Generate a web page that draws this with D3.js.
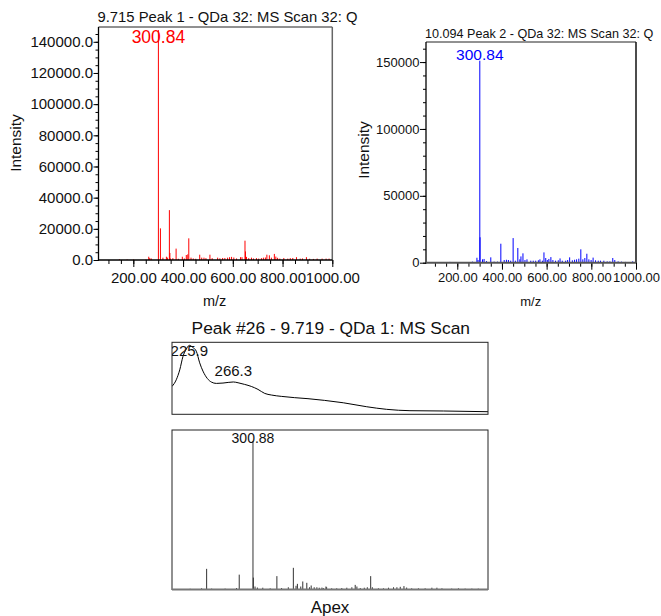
<!DOCTYPE html>
<html>
<head>
<meta charset="utf-8">
<script src="https://cdn.jsdelivr.net/npm/d3@7"></script>
<style>
  html, body { margin: 0; padding: 0; background: #fff; }
  svg { display: block; font-family: "Liberation Sans", Arial, sans-serif; }
</style>
</head>
<body>
<svg id="chart" width="661" height="616"></svg>
<script>
// ---- Data ---------------------------------------------------------------

// 9.715 min, Peak 1: [m/z, intensity]
const scan1Peaks = [
  [144,400],[175,300],[201,300],[251,300],[262,2100],[266,1200],[272,1000],
  [300.84,147500],[309,20300],[319,1500],[333,2100],[337,1500],[345,32000],
  [347,4500],[349,1000],[359,1200],[372,7300],[381,800],[397,2100],[405,1000],
  [413,3200],[419,3600],[423,13900],[432,1500],[441,1000],[451,800],[467,3400],
  [475,1500],[484,1500],[492,1200],[508,3400],[517,1200],[539,1500],[548,1100],
  [559,1300],[568,1300],[579,1500],[587,1800],[595,2000],[604,1600],[615,1000],
  [631,1800],[637,1800],[649,12400],[651,5500],[655,2000],[664,1200],[675,1500],
  [683,1000],[695,1200],[704,900],[715,1200],[723,1500],[731,1600],[737,3400],
  [747,3000],[755,1500],[767,3900],[773,2200],[780,1400],[789,900],[805,1300],
  [821,900],[831,1200],[841,1300],[856,1800],[871,900],[880,1000],[896,1800],
  [909,800],[924,700],[939,900],[959,900],[975,900],[987,900]
];

// 10.094 min, Peak 2: [m/z, intensity]
const scan2Peaks = [
  [105,300],[134,300],[167,600],[194,400],[221,400],[253,300],[268,800],
  [288,3700],[293,2000],[300.84,151000],[302,19000],[313,2500],[320,2800],
  [331,1200],[350,4000],[365,800],[380,800],[395,14200],[410,2000],[420,2200],
  [429,2000],[439,1500],[450,18400],[460,1500],[471,11000],[480,2500],[485,4700],
  [494,7000],[503,2000],[512,2500],[529,1500],[540,1500],[551,1500],[563,1800],
  [570,2500],[581,1500],[588,7700],[596,3500],[603,2000],[610,2800],[619,4200],
  [628,2000],[640,1500],[652,1800],[660,3200],[670,1500],[685,1500],[694,2000],
  [703,4000],[715,1800],[725,2200],[734,2500],[744,3000],[753,10000],[762,2500],
  [771,3500],[780,6700],[789,2500],[799,2000],[808,3800],[819,1800],[831,1500],
  [841,1500],[856,1500],[871,1000],[883,1000],[896,3500],[905,2000],[920,1000],
  [935,800],[953,600],[968,500],[985,1000]
];

// Peak #26 apex mass spectrum: [m/z, relative intensity %]
const apexPeaks = [
  [114,0.5],[148,0.8],[163,13.9],[178,0.6],[218,0.6],[252,1],[260,10],
  [300.88,100],[302,8],[307,2],[314,1.3],[330,1.2],[352,0.8],[372,9],[386,1],
  [406,1.5],[421,14.6],[429,2.5],[433,3.8],[443,2],[449,5.4],[461,4.5],[469,1.5],
  [474,2.7],[483,1.5],[491,1.5],[498,1.2],[506,1.3],[510,1],[518,2],[520,1.5],
  [535,0.8],[550,0.8],[565,1],[580,1.2],[595,1.5],[605,3.1],[610,2],[620,1],
  [632,1.2],[641,1.5],[651,9],[656,1.5],[674,0.8],[689,0.8],[704,1.2],[719,1.5],
  [729,1.5],[739,1.8],[750,2.3],[758,1.3],[773,0.8],[793,0.8],[813,0.8],
  [833,1.2],[848,1.2],[863,0.8],[892,0.6],[912,0.8],[932,0.6],[952,0.6],[971,0.6]
];

// Peak #26 UV spectrum: [wavelength nm, absorbance]
const uvSpectrum = [
  [210,0.387],[213.9,0.479],[217.1,0.617],[220.1,0.805],[223.1,0.905],
  [225.9,0.958],[229,0.93],[232.3,0.876],[235.4,0.715],[238.4,0.600],
  [242.4,0.498],[246.1,0.448],[250.7,0.429],[256.8,0.434],[266.3,0.449],
  [270.6,0.438],[276.7,0.415],[282.8,0.387],[288.9,0.346],[295.1,0.290],
  [301.1,0.268],[310.3,0.249],[322.6,0.231],[334.8,0.217],[350.1,0.193],
  [367.2,0.160],[388.7,0.105],[407.0,0.069],[428.4,0.050],[459.0,0.046],
  [500,0.036]
];

// Labelled maxima
const scan1Labels = [[300.84, 147500, "300.84"]];
const scan2Labels = [[300.84, 151000, "300.84"]];
const apexLabels  = [[300.88, 100, "300.88"]];
const uvLabels    = [[225.9, 0.958, "225.9"], [266.3, 0.449, "266.3"]];

// Axis ticks
const mzTicks = [200, 400, 600, 800, 1000];
const mzMinorTicks = d3.range(100, 1001, 50);
const scan1YTicks = [0, 20000, 40000, 60000, 80000, 100000, 120000, 140000];
const scan1YMinor = d3.range(0, 145001, 5000);
const scan2YTicks = [0, 50000, 100000, 150000];
const scan2YMinor = d3.range(0, 160001, 10000);

// Titles
const scan1Title = "9.715 Peak 1 - QDa 32: MS Scan 32: Q";
const scan2Title = "10.094 Peak 2 - QDa 32: MS Scan 32: Q";
const peakTitle = "Peak #26 - 9.719 - QDa 1: MS Scan";

// ---- Drawing ------------------------------------------------------------

const svg = d3.select("#chart");
const mzDomain = [60, 1000];

function sticks(g, data, x, y, color, width) {
  g.selectAll(null).data(data).join("line")
    .attr("x1", d => x(d[0])).attr("x2", d => x(d[0]))
    .attr("y1", y(0)).attr("y2", d => y(d[1]))
    .attr("stroke", color).attr("stroke-width", width);
}

function styleAxis(g, fontSize) {
  g.select(".domain").remove();
  g.selectAll("text").attr("font-size", fontSize).attr("fill", "#111")
    .attr("font-family", "Liberation Sans, Arial, sans-serif");
  g.selectAll("line").attr("stroke", "#000");
}

// Mass spectrum panel with axes
function massPanel(opt) {
  const x = d3.scaleLinear().domain(mzDomain).range([opt.left, opt.right]);
  const y = d3.scaleLinear().domain([0, opt.yMax]).range([opt.bottom, opt.top]);
  const g = svg.append("g");

  g.append("text")
    .attr("x", opt.left - 1).attr("y", opt.titleY)
    .attr("font-size", opt.titleSize).attr("fill", "#111")
    .text(opt.title);

  // frame: top and right
  g.append("line").attr("x1", opt.left).attr("x2", opt.right)
    .attr("y1", opt.top).attr("y2", opt.top).attr("stroke", "#222");
  g.append("line").attr("x1", opt.right).attr("x2", opt.right)
    .attr("y1", opt.top).attr("y2", opt.bottom)
    .attr("stroke", opt.rightColor).attr("stroke-width", 1.5);

  sticks(g, opt.peaks, x, y, opt.color, 1);

  // y axis
  const ya = g.append("g").attr("transform", `translate(${opt.left},0)`)
    .call(d3.axisLeft(y).tickValues(opt.yMinor).tickSize(3).tickFormat(""));
  styleAxis(ya, opt.tickSize);
  const yb = g.append("g").attr("transform", `translate(${opt.left},0)`)
    .call(d3.axisLeft(y).tickValues(opt.yTicks).tickSize(opt.yTickLen)
      .tickPadding(0.5).tickFormat(opt.yFormat));
  styleAxis(yb, opt.tickSize);
  g.append("line").attr("x1", opt.left).attr("x2", opt.left)
    .attr("y1", opt.top).attr("y2", opt.bottom + 1).attr("stroke", "#000").attr("stroke-width", 1.3);

  // x axis
  const xa = g.append("g").attr("transform", `translate(0,${opt.bottom})`)
    .call(d3.axisBottom(x).tickValues(mzMinorTicks).tickSize(4).tickFormat(""));
  styleAxis(xa, opt.tickSize);
  const xb = g.append("g").attr("transform", `translate(0,${opt.bottom})`)
    .call(d3.axisBottom(x).tickValues(mzTicks).tickSize(7)
      .tickPadding(opt.xPad).tickFormat(d3.format(".2f")));
  styleAxis(xb, opt.tickSize);
  g.append("line").attr("x1", opt.left).attr("x2", opt.right)
    .attr("y1", opt.bottom).attr("y2", opt.bottom)
    .attr("stroke", opt.baseColor).attr("stroke-width", opt.baseWidth);

  // peak labels
  g.selectAll(null).data(opt.labels).join("text")
    .attr("x", d => x(d[0]))
    .attr("y", d => Math.max(y(d[1]) - 1, opt.top + opt.labelMin))
    .attr("text-anchor", "middle").attr("font-size", opt.labelSize)
    .attr("fill", opt.color).text(d => d[2]);

  // axis titles
  g.append("text")
    .attr("transform", `translate(${opt.yTitleX},${opt.yTitleY}) rotate(-90)`)
    .attr("text-anchor", "middle").attr("font-size", 15.5).attr("fill", "#111")
    .text("Intensity");
  g.append("text").attr("x", opt.mzX).attr("y", opt.mzY)
    .attr("text-anchor", "middle").attr("font-size", opt.mzSize).attr("fill", "#111")
    .text("m/z");
}

massPanel({
  left: 98.5, right: 332.3, top: 27, bottom: 260, yMax: 149500,
  peaks: scan1Peaks, labels: scan1Labels, color: "#ff0000",
  title: scan1Title, titleY: 21.7, titleSize: 14.8,
  yTicks: scan1YTicks, yMinor: scan1YMinor, yFormat: d3.format(".1f"), yTickLen: 5,
  tickSize: 15, xPad: 5, labelSize: 17.5, labelMin: 16.3,
  rightColor: "#666", baseColor: "#000", baseWidth: 1.5,
  yTitleX: 21, yTitleY: 143, mzX: 214.7, mzY: 306, mzSize: 14.5
});

massPanel({
  left: 426, right: 636, top: 42, bottom: 262.7, yMax: 165000,
  peaks: scan2Peaks, labels: scan2Labels, color: "#0000ff",
  title: scan2Title, titleY: 38.3, titleSize: 12.6,
  yTicks: scan2YTicks, yMinor: scan2YMinor, yFormat: d3.format("d"), yTickLen: 6,
  tickSize: 13, xPad: 3.5, labelSize: 15.5, labelMin: 14,
  rightColor: "#111", baseColor: "#555", baseWidth: 2,
  yTitleX: 369, yTitleY: 150, mzX: 530.7, mzY: 306, mzSize: 13
});

// ---- Peak #26: UV and apex mass spectrum --------------------------------

svg.append("text").attr("x", 330.8).attr("y", 333.5)
  .attr("text-anchor", "middle").attr("font-size", 17.4).attr("fill", "#111")
  .text(peakTitle);

const uvBox = { left: 172, right: 488, top: 342.3, bottom: 414.3 };
const xw = d3.scaleLinear().domain([210, 500]).range([uvBox.left, uvBox.right]);
const ya = d3.scaleLinear().domain([0, 1]).range([uvBox.bottom, uvBox.top]);

svg.append("clipPath").attr("id", "clip-uv").append("rect")
  .attr("x", uvBox.left).attr("y", uvBox.top)
  .attr("width", uvBox.right - uvBox.left).attr("height", uvBox.bottom - uvBox.top);

const uvG = svg.append("g");
uvG.append("path").datum(uvSpectrum)
  .attr("clip-path", "url(#clip-uv)")
  .attr("fill", "none").attr("stroke", "#000").attr("stroke-width", 1)
  .attr("d", d3.line().x(d => xw(d[0])).y(d => ya(d[1])).curve(d3.curveMonotoneX));
uvG.append("g").attr("clip-path", "url(#clip-uv)")
  .selectAll("text").data(uvLabels).join("text")
  .attr("x", d => xw(d[0]))
  .attr("y", d => Math.max(ya(d[1]) - 6, uvBox.top + 14))
  .attr("text-anchor", "middle").attr("font-size", 15).attr("fill", "#111")
  .text(d => d[2]);
uvG.append("rect")
  .attr("x", uvBox.left).attr("y", uvBox.top)
  .attr("width", uvBox.right - uvBox.left).attr("height", uvBox.bottom - uvBox.top)
  .attr("fill", "none").attr("stroke", "#222").attr("stroke-width", 1);

const msBox = { left: 172, right: 488, top: 430, bottom: 589.5 };
const x3 = d3.scaleLinear().domain(mzDomain).range([msBox.left, msBox.right]);
const y3 = d3.scaleLinear().domain([0, 107.4]).range([msBox.bottom, msBox.top]);

const msG = svg.append("g");
msG.append("rect")
  .attr("x", msBox.left).attr("y", msBox.top)
  .attr("width", msBox.right - msBox.left).attr("height", msBox.bottom - msBox.top)
  .attr("fill", "none").attr("stroke", "#222").attr("stroke-width", 1);
sticks(msG, apexPeaks, x3, y3, "#333", 1);
msG.append("line").attr("x1", msBox.left).attr("x2", msBox.right)
  .attr("y1", msBox.bottom).attr("y2", msBox.bottom)
  .attr("stroke", "#777").attr("stroke-width", 2);
msG.selectAll(null).data(apexLabels).join("text")
  .attr("x", d => x3(d[0]))
  .attr("y", d => Math.max(y3(d[1]) - 1, msBox.top + 13.3))
  .attr("text-anchor", "middle").attr("font-size", 14).attr("fill", "#111")
  .text(d => d[2]);

svg.append("text").attr("x", 330).attr("y", 613)
  .attr("text-anchor", "middle").attr("font-size", 17).attr("fill", "#111")
  .text("Apex");
</script>
</body>
</html>
